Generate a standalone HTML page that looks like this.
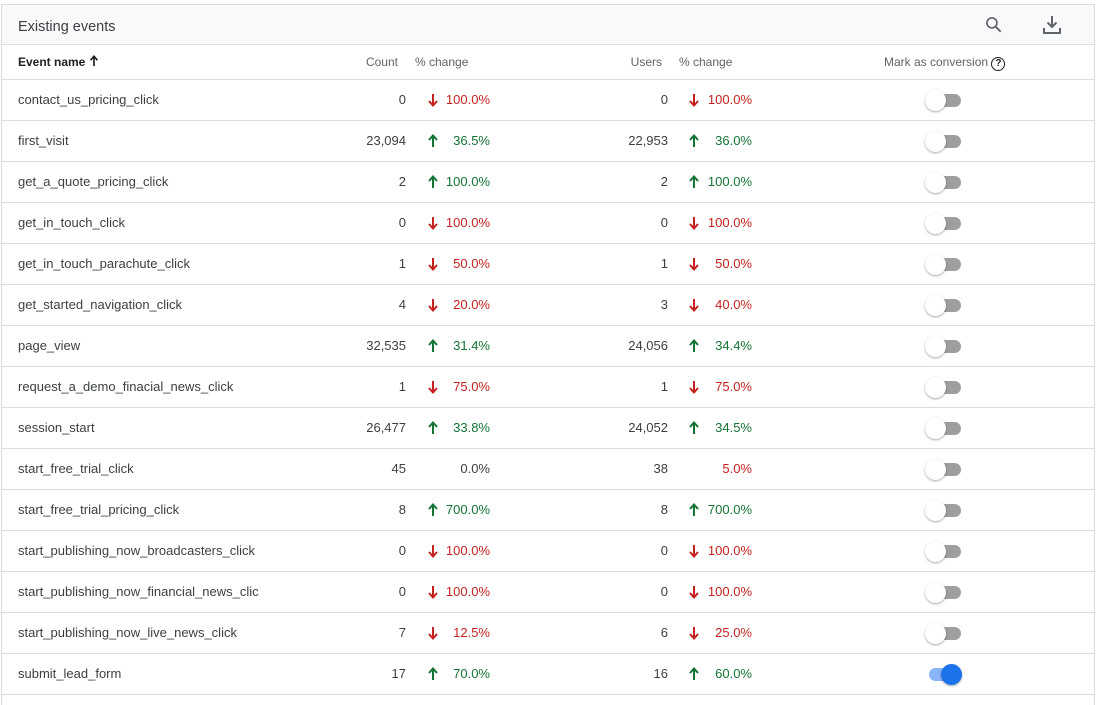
<!DOCTYPE html>
<html><head><meta charset="utf-8"><style>
body{margin:0;width:1102px;height:698px;background:#fff;font-family:"Liberation Sans",Arial,sans-serif;color:#3c4043;position:relative;overflow:hidden}
.box{position:absolute;left:1px;top:4px;width:1092px;height:700px;border:1px solid #dadce0;border-bottom:none}
.hdr{position:absolute;left:2px;top:5px;width:1092px;height:39px;background:#f8f9fa;border-bottom:1px solid #dadce0}
.title{position:absolute;left:16px;top:14px;font-size:14.5px;color:#3c4043}
.row{position:absolute;left:2px;width:1092px;height:40px;border-bottom:1px solid #dadce0;font-size:13px}
.row div{position:absolute;top:12px;white-space:nowrap}
.n{left:16px}
.c{right:688px;text-align:right}
.row div.a1,.row div.a2{top:13px;width:10px;height:14px}
.a1{left:426px}
.p1{right:604px}
.u{right:426px}
.a2{left:687px}
.p2{right:342px}
.red{color:#c5221f}.grn{color:#137333}
.tr{position:absolute;left:927px;top:14px;width:32px;height:13px;border-radius:7px;background:#9e9e9e}
.kn{position:absolute;left:923px;top:10px;width:21px;height:21px;border-radius:50%;background:#fff;box-shadow:0 1px 2px rgba(0,0,0,.35)}
.on .tr{background:#8ab4f8}.on .kn{left:939px;background:#1a73e8}
.h div{top:10px;font-size:12px;color:#5f6368}
</style></head><body>
<div class="box"></div>
<div class="hdr"><div class="title">Existing events</div>
<svg style="position:absolute;left:982px;top:10px" width="20" height="20" viewBox="0 0 24 24"><circle cx="9.5" cy="9.5" r="6" fill="none" stroke="#5f6368" stroke-width="2"/><path d="M14 14l6 6" stroke="#5f6368" stroke-width="2.2"/></svg>
<svg style="position:absolute;left:1040px;top:9px" width="20" height="22" viewBox="0 0 20 22"><path d="M10 2v11M5.5 8.5L10 13l4.5-4.5" fill="none" stroke="#5f6368" stroke-width="2"/><path d="M2 14v5h16v-5" fill="none" stroke="#5f6368" stroke-width="2"/></svg>
</div>
<svg width="0" height="0" style="position:absolute"><defs>
<symbol id="up" viewBox="0 0 10 14"><path d="M5 13V2M1 6l4-4.5L9 6" fill="none" stroke="currentColor" stroke-width="2"/></symbol>
<symbol id="dn" viewBox="0 0 10 14"><path d="M5 1v11M1 8l4 4.5L9 8" fill="none" stroke="currentColor" stroke-width="2"/></symbol>
</defs></svg>
<div class="row h" style="top:45px;height:34px">
<div class="n" style="font-weight:bold;color:#202124">Event name <svg width="10" height="12" viewBox="0 0 10 14" style="vertical-align:-1px;color:#202124"><use href="#up"/></svg></div>
<div class="c" style="right:696px">Count</div><div style="left:413px">% change</div>
<div class="u" style="right:432px">Users</div><div style="left:677px">% change</div>
<div style="left:882px">Mark as conversion <span style="display:inline-block;width:12px;height:12px;border:1.3px solid #202124;border-radius:50%;font-size:10px;line-height:12px;text-align:center;color:#202124;font-weight:bold">?</span></div>
</div>
<div class="row" style="top:80px"><div class="n">contact_us_pricing_click</div><div class="c">0</div><div class="a1 red"><svg width="10" height="14"><use href="#dn"/></svg></div><div class="p1 red">100.0%</div><div class="u">0</div><div class="a2 red"><svg width="10" height="14"><use href="#dn"/></svg></div><div class="p2 red">100.0%</div><span class="tr"></span><span class="kn"></span></div>
<div class="row" style="top:121px"><div class="n">first_visit</div><div class="c">23,094</div><div class="a1 grn"><svg width="10" height="14"><use href="#up"/></svg></div><div class="p1 grn">36.5%</div><div class="u">22,953</div><div class="a2 grn"><svg width="10" height="14"><use href="#up"/></svg></div><div class="p2 grn">36.0%</div><span class="tr"></span><span class="kn"></span></div>
<div class="row" style="top:162px"><div class="n">get_a_quote_pricing_click</div><div class="c">2</div><div class="a1 grn"><svg width="10" height="14"><use href="#up"/></svg></div><div class="p1 grn">100.0%</div><div class="u">2</div><div class="a2 grn"><svg width="10" height="14"><use href="#up"/></svg></div><div class="p2 grn">100.0%</div><span class="tr"></span><span class="kn"></span></div>
<div class="row" style="top:203px"><div class="n">get_in_touch_click</div><div class="c">0</div><div class="a1 red"><svg width="10" height="14"><use href="#dn"/></svg></div><div class="p1 red">100.0%</div><div class="u">0</div><div class="a2 red"><svg width="10" height="14"><use href="#dn"/></svg></div><div class="p2 red">100.0%</div><span class="tr"></span><span class="kn"></span></div>
<div class="row" style="top:244px"><div class="n">get_in_touch_parachute_click</div><div class="c">1</div><div class="a1 red"><svg width="10" height="14"><use href="#dn"/></svg></div><div class="p1 red">50.0%</div><div class="u">1</div><div class="a2 red"><svg width="10" height="14"><use href="#dn"/></svg></div><div class="p2 red">50.0%</div><span class="tr"></span><span class="kn"></span></div>
<div class="row" style="top:285px"><div class="n">get_started_navigation_click</div><div class="c">4</div><div class="a1 red"><svg width="10" height="14"><use href="#dn"/></svg></div><div class="p1 red">20.0%</div><div class="u">3</div><div class="a2 red"><svg width="10" height="14"><use href="#dn"/></svg></div><div class="p2 red">40.0%</div><span class="tr"></span><span class="kn"></span></div>
<div class="row" style="top:326px"><div class="n">page_view</div><div class="c">32,535</div><div class="a1 grn"><svg width="10" height="14"><use href="#up"/></svg></div><div class="p1 grn">31.4%</div><div class="u">24,056</div><div class="a2 grn"><svg width="10" height="14"><use href="#up"/></svg></div><div class="p2 grn">34.4%</div><span class="tr"></span><span class="kn"></span></div>
<div class="row" style="top:367px"><div class="n">request_a_demo_finacial_news_click</div><div class="c">1</div><div class="a1 red"><svg width="10" height="14"><use href="#dn"/></svg></div><div class="p1 red">75.0%</div><div class="u">1</div><div class="a2 red"><svg width="10" height="14"><use href="#dn"/></svg></div><div class="p2 red">75.0%</div><span class="tr"></span><span class="kn"></span></div>
<div class="row" style="top:408px"><div class="n">session_start</div><div class="c">26,477</div><div class="a1 grn"><svg width="10" height="14"><use href="#up"/></svg></div><div class="p1 grn">33.8%</div><div class="u">24,052</div><div class="a2 grn"><svg width="10" height="14"><use href="#up"/></svg></div><div class="p2 grn">34.5%</div><span class="tr"></span><span class="kn"></span></div>
<div class="row" style="top:449px"><div class="n">start_free_trial_click</div><div class="c">45</div><div class="p1">0.0%</div><div class="u">38</div><div class="p2 red">5.0%</div><span class="tr"></span><span class="kn"></span></div>
<div class="row" style="top:490px"><div class="n">start_free_trial_pricing_click</div><div class="c">8</div><div class="a1 grn"><svg width="10" height="14"><use href="#up"/></svg></div><div class="p1 grn">700.0%</div><div class="u">8</div><div class="a2 grn"><svg width="10" height="14"><use href="#up"/></svg></div><div class="p2 grn">700.0%</div><span class="tr"></span><span class="kn"></span></div>
<div class="row" style="top:531px"><div class="n">start_publishing_now_broadcasters_click</div><div class="c">0</div><div class="a1 red"><svg width="10" height="14"><use href="#dn"/></svg></div><div class="p1 red">100.0%</div><div class="u">0</div><div class="a2 red"><svg width="10" height="14"><use href="#dn"/></svg></div><div class="p2 red">100.0%</div><span class="tr"></span><span class="kn"></span></div>
<div class="row" style="top:572px"><div class="n">start_publishing_now_financial_news_clic</div><div class="c">0</div><div class="a1 red"><svg width="10" height="14"><use href="#dn"/></svg></div><div class="p1 red">100.0%</div><div class="u">0</div><div class="a2 red"><svg width="10" height="14"><use href="#dn"/></svg></div><div class="p2 red">100.0%</div><span class="tr"></span><span class="kn"></span></div>
<div class="row" style="top:613px"><div class="n">start_publishing_now_live_news_click</div><div class="c">7</div><div class="a1 red"><svg width="10" height="14"><use href="#dn"/></svg></div><div class="p1 red">12.5%</div><div class="u">6</div><div class="a2 red"><svg width="10" height="14"><use href="#dn"/></svg></div><div class="p2 red">25.0%</div><span class="tr"></span><span class="kn"></span></div>
<div class="row on" style="top:654px"><div class="n">submit_lead_form</div><div class="c">17</div><div class="a1 grn"><svg width="10" height="14"><use href="#up"/></svg></div><div class="p1 grn">70.0%</div><div class="u">16</div><div class="a2 grn"><svg width="10" height="14"><use href="#up"/></svg></div><div class="p2 grn">60.0%</div><span class="tr"></span><span class="kn"></span></div>
</body></html>
